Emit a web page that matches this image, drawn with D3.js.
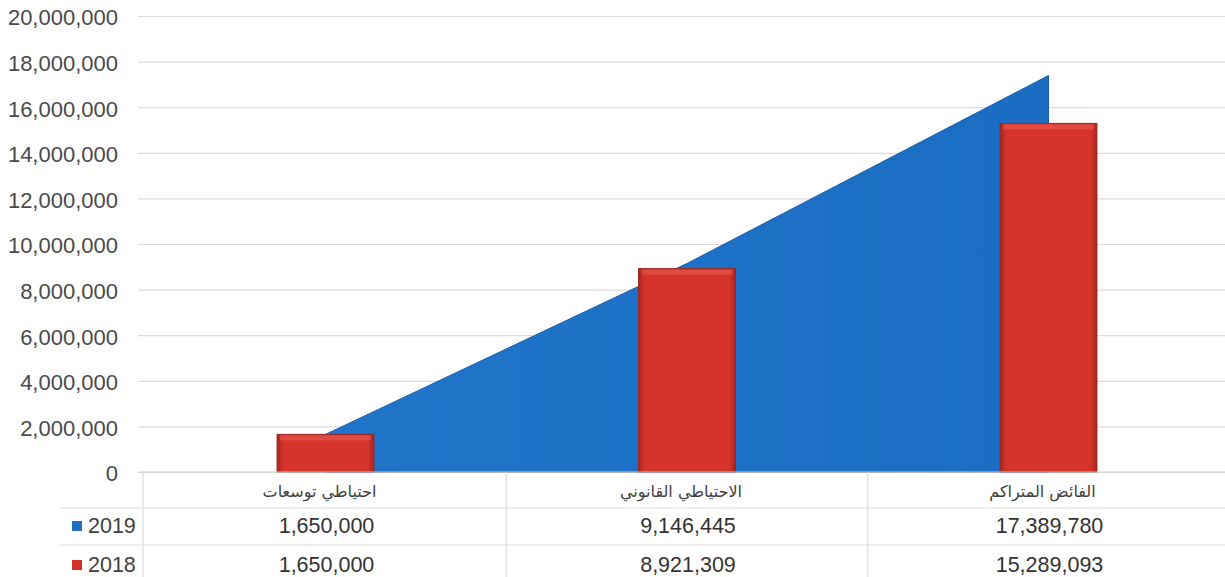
<!DOCTYPE html>
<html><head><meta charset="utf-8">
<script src="https://cdnjs.cloudflare.com/ajax/libs/d3/7.8.5/d3.min.js"></script>
<style>
html,body{margin:0;padding:0;background:#fff;}
svg{display:block;}
</style></head>
<body>
<svg id="chart" width="1225" height="577"></svg>
<script>
const categories = ["احتياطي توسعات", "الاحتياطي القانوني", "الفائض المتراكم"];
const seriesNames = ["2019", "2018"];
const values2019 = [1650000, 9146445, 17389780];
const values2018 = [1650000, 8921309, 15289093];
const yTicks = [0, 2000000, 4000000, 6000000, 8000000, 10000000, 12000000, 14000000, 16000000, 18000000, 20000000];

const W = 1225, H = 577;
const svg = d3.select("#chart");
const fmt = d3.format(",");

const x = d3.scaleBand().domain(categories).range([144.75, 1229.25]).padding(0);
const y = d3.scaleLinear().domain([0, 20000000]).range([472, 16]);
const cx = c => x(c) + x.bandwidth() / 2;

const defs = svg.append("defs");
const rg = defs.append("linearGradient").attr("id", "redH").attr("x1", "0").attr("x2", "1").attr("y1", "0").attr("y2", "0");
rg.append("stop").attr("offset", "0").attr("stop-color", "#a9251f");
rg.append("stop").attr("offset", "0.07").attr("stop-color", "#d6342b");
rg.append("stop").attr("offset", "0.93").attr("stop-color", "#d6342b");
rg.append("stop").attr("offset", "1").attr("stop-color", "#a9251f");
const bg = defs.append("linearGradient").attr("id", "blueA").attr("x1", "0").attr("x2", "1").attr("y1", "0").attr("y2", "0");
bg.append("stop").attr("offset", "0").attr("stop-color", "#2075c9");
bg.append("stop").attr("offset", "1").attr("stop-color", "#1a6dc2");

// gridlines
svg.append("g")
  .attr("transform", "translate(138,0)")
  .call(d3.axisLeft(y).tickValues(yTicks).tickSize(-(W - 138)).tickFormat(""))
  .call(g => g.select(".domain").remove())
  .call(g => g.selectAll("line").attr("stroke", "#e0dadc").attr("stroke-width", 1.2));

// y labels
svg.append("g")
  .attr("transform", "translate(118,0)")
  .call(d3.axisLeft(y).tickValues(yTicks).tickSize(0).tickPadding(0).tickFormat(fmt))
  .call(g => g.select(".domain").remove())
  .call(g => g.selectAll("text")
    .attr("font-family", "Liberation Sans, Arial, sans-serif")
    .attr("font-size", 22)
    .attr("fill", "#4a4a4a")
    .attr("dy", "0.4em"));

// area 2019
const area = d3.area()
  .x(d => cx(d.c))
  .y0(y(0))
  .y1(d => y(d.v));
const areaData = categories.map((c, i) => ({c, v: values2019[i]}));
svg.append("path").datum(areaData)
  .attr("d", area)
  .attr("fill", "url(#blueA)")
  .attr("stroke", "#1a5ea8").attr("stroke-width", 1);

// bars 2018
const bw = x.bandwidth() * 0.268;
const bars = svg.append("g").selectAll("g").data(categories.map((c, i) => ({c, v: values2018[i]}))).join("g");
bars.append("rect")
  .attr("x", d => cx(d.c) - bw / 2)
  .attr("y", d => y(d.v))
  .attr("width", bw)
  .attr("height", d => y(0) - y(d.v))
  .attr("fill", "url(#redH)")
  .attr("stroke", "#9a2620").attr("stroke-width", 1);
bars.append("rect")
  .attr("x", d => cx(d.c) - bw / 2 + 3)
  .attr("y", d => y(d.v) + 1)
  .attr("width", bw - 6)
  .attr("height", 5)
  .attr("fill", "#e2554c").attr("opacity", 0.7);

// data table lines
const tbl = svg.append("g").attr("stroke", "#e0dadc").attr("stroke-width", 1.2);
tbl.append("line").attr("x1", 138).attr("x2", W).attr("y1", y(0)).attr("y2", y(0)).attr("stroke", "#d0d0d0");
[508, 545].forEach(yy => tbl.append("line").attr("x1", 60).attr("x2", W).attr("y1", yy).attr("y2", yy));
[143, x(categories[1]), x(categories[2])].forEach(xx => tbl.append("line").attr("x1", xx).attr("x2", xx).attr("y1", y(0)).attr("y2", H));

// category labels
svg.append("g").selectAll("text").data(categories).join("text")
  .attr("x", d => cx(d) - 6)
  .attr("y", 497)
  .attr("text-anchor", "middle")
  .attr("font-family", "DejaVu Sans, sans-serif")
  .attr("font-size", 16)
  .attr("fill", "#404040")
  .text(d => d);

// table rows
const rows = [
  {name: seriesNames[0], vals: values2019, color: "#1f6fc3", y: 533},
  {name: seriesNames[1], vals: values2018, color: "#cf3129", y: 572}
];
rows.forEach(r => {
  svg.append("rect").attr("x", 72).attr("y", r.y - 12).attr("width", 10).attr("height", 10).attr("fill", r.color);
  svg.append("text").attr("x", 88).attr("y", r.y)
    .attr("font-family", "Liberation Sans, Arial, sans-serif").attr("font-size", 21.5).attr("fill", "#404040")
    .text(r.name);
  svg.append("g").selectAll("text").data(categories).join("text")
    .attr("x", (d) => cx(d) + 1)
    .attr("y", r.y)
    .attr("text-anchor", "middle")
    .attr("font-family", "Liberation Sans, Arial, sans-serif").attr("font-size", 21.5).attr("fill", "#333")
    .text((d, i) => fmt(r.vals[i]));
});
</script>
</body></html>
